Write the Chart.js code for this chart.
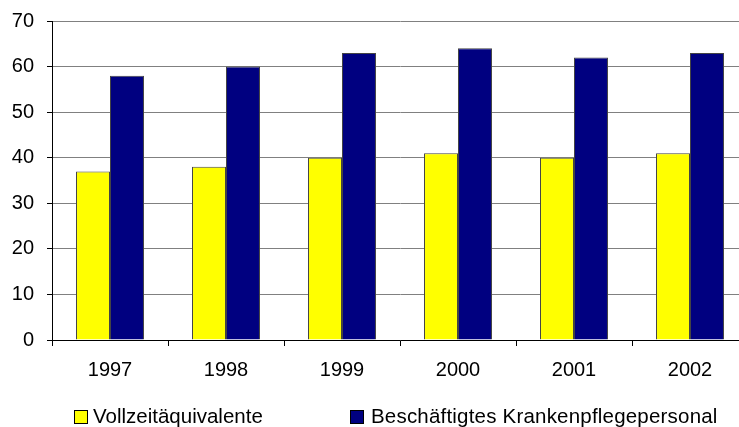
<!DOCTYPE html>
<html><head><meta charset="utf-8">
<script src="https://cdn.jsdelivr.net/npm/chart.js@4"></script>
<style>
html,body{margin:0;padding:0;background:#fff;overflow:hidden;}
#wrap{position:relative;width:739px;height:427px;overflow:hidden;}
canvas{position:absolute;left:0;top:0;}
.leg{position:absolute;font-family:"Liberation Sans",Arial,sans-serif;font-size:20.5px;color:#000;white-space:nowrap;line-height:20px;}
.sw{position:absolute;width:12px;height:12px;border:1px solid #000;}
</style></head><body>
<div id="wrap">
<canvas id="c" width="760" height="427"></canvas>
<div class="sw" style="left:74px;top:410px;background:#FFFF00"></div>
<div class="leg" style="left:93px;top:406px">Vollzeitäquivalente</div>
<div class="sw" style="left:350px;top:410px;background:#000080"></div>
<div class="leg" style="left:371px;top:406px;letter-spacing:0.2px">Beschäftigtes Krankenpflegepersonal</div>
</div>
<script>
const categories = ['1997','1998','1999','2000','2001','2002'];
const vollzeit = [37,38,40,41,40,41];
const beschaeftigt = [58,60,63,64,62,63];
const seriesNames = ['Vollzeitäquivalente','Beschäftigtes Krankenpflegepersonal'];

const font = {family:'"Liberation Sans", Arial, sans-serif', size:20};
new Chart(document.getElementById('c'), {
  type:'bar',
  data:{labels:categories, datasets:[
    {label:seriesNames[0], data:vollzeit, backgroundColor:'#FFFF00', borderColor:'#444', borderWidth:1, categoryPercentage:0.586, barPercentage:1},
    {label:seriesNames[1], data:beschaeftigt, backgroundColor:'#000080', borderColor:'#444', borderWidth:1, categoryPercentage:0.586, barPercentage:1}
  ]},
  options:{
    responsive:false, animation:false,
    layout:{padding:{top:10,right:12,left:0,bottom:0}},
    plugins:{legend:{display:false}, tooltip:{enabled:false}},
    scales:{
      x:{
        grid:{drawOnChartArea:false, color:'#000', tickColor:'#000', tickLength:6, offset:true},
        border:{color:'#000', width:1},
        ticks:{color:'#000', font:font, padding:12, maxRotation:0},
        afterFit:(s)=>{s.height=87;}
      },
      y:{
        min:0,max:70,
        ticks:{stepSize:10, color:'#000', font:{family:font.family, size:20, lineHeight:0.8}, padding:13},
        grid:{color:'#808080', tickColor:'#000', tickLength:5, lineWidth:1},
        border:{color:'#000', width:1},
        afterFit:(s)=>{s.width=52;}
      }
    }
  }
});
</script>
</body></html>
